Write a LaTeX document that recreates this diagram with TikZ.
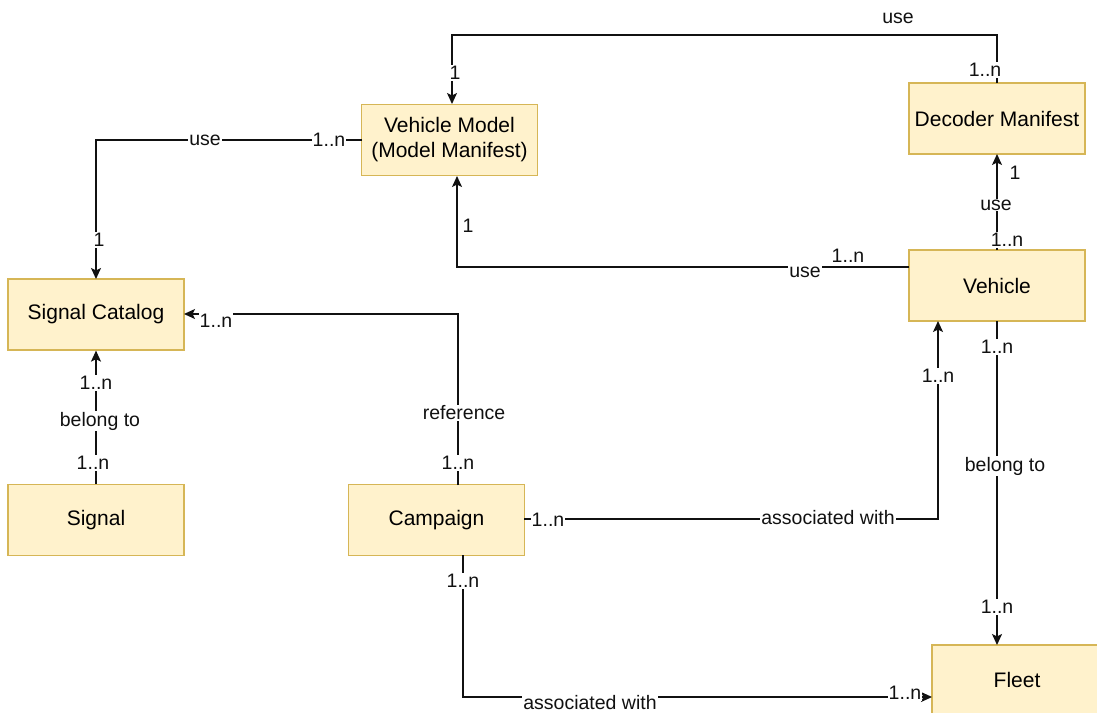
\documentclass[tikz,border=0pt]{standalone}
\usepackage{fontspec}
\setmainfont{Liberation Sans}
\usetikzlibrary{arrows.meta}
\definecolor{boxfill}{HTML}{FFF2CC}
\definecolor{boxline}{HTML}{D6B656}
\definecolor{edgecol}{HTML}{111111}
\tikzset{
  entity/.style={draw=boxline, fill=boxfill, line width=1.2pt, minimum width=176pt, minimum height=71pt, inner sep=0pt, align=center, font=\fontsize{21}{25}\selectfont},
  conn/.style={draw=edgecol, line width=1.5pt},
  arr/.style={conn, -{Stealth[length=11pt,width=10pt,inset=2.5pt]}},
  lbl/.style={fill=white, inner sep=1pt, font=\fontsize{19.5}{22}\selectfont, text=edgecol},
  lblnf/.style={inner sep=1pt, font=\fontsize{19.5}{22}\selectfont, text=edgecol}
}
\begin{document}
\begin{tikzpicture}[x=1pt,y=-1pt]
\useasboundingbox (0,0) rectangle (1097,712);
\clip (0,0) rectangle (1097,712);
\fill[white] (0,0) rectangle (1097,712);

% entities
\node[entity] (vm) at (449.5,140) {Vehicle Model\\(Model Manifest)};
\node[entity] (dm) at (997,118.5) {Decoder Manifest};
\node[entity] (sc) at (96,314.5) {Signal Catalog};
\node[entity] (veh) at (997,285.5) {Vehicle};
\node[entity] (sig) at (96,520) {Signal};
\node[entity] (camp) at (436.5,520) {Campaign};
\node[entity] (fleet) at (1020,680.5) {};
\node[font=\fontsize{21}{25}\selectfont] (fleettxt) at (1017,680) {Fleet};

% corner coordinates
\coordinate (dmtop) at (997,83);
\coordinate (c1a) at (997,35);
\coordinate (vmtop) at (452,104);
\coordinate (vmleft) at (362,140);
\coordinate (sctop) at (96,279);
\coordinate (vehleft) at (909,267);
\coordinate (vmbot) at (457,176);
\coordinate (camptop) at (458,485);
\coordinate (scright) at (184,314);
\coordinate (campright) at (524,519);
\coordinate (vehbot1) at (938,321);
\coordinate (campbot) at (463,555);
\coordinate (fleetleft) at (932,697);
\coordinate (vehbot2) at (997,321);
\coordinate (fleettop) at (997,645);
\coordinate (vehtop) at (997,250);
\coordinate (dmbot) at (997,154);

% connectors
\draw[arr] (dmtop) -- (c1a) -| (vmtop);
\draw[arr] (vmleft) -| (sctop);
\draw[arr] (vehleft) -| (vmbot);
\draw[arr] (camptop) |- (scright);
\draw[arr] (sig.north) -- (sc.south);
\draw[arr] (campright) -| (vehbot1);
\draw[arr] (campbot) |- (fleetleft);
\draw[arr] (vehbot2) -- (fleettop);
\draw[arr] (vehtop) -- (dmbot);

% labels edge 1
\node[lblnf] (l1a) at (898,18) {use};
\node[lbl] (l1b) at (985,70) {1..n};
\node[lbl] (l1c) at (455,73) {1};
% edge 2
\node[lbl] (l2a) at (329,140) {1..n};
\node[lbl] (l2b) at (205,140) {use};
\node[lbl] (l2c) at (99,240) {1};
% edge 3
\node[lbl] (l3a) at (805,272) {use};
\node[lblnf] (l3b) at (848,256) {1..n};
\node[lblnf] (l3c) at (468,226) {1};
% edge 4
\node[lbl] (l4a) at (216,321) {1..n};
\node[lbl] (l4b) at (464,413) {reference};
\node[lbl] (l4c) at (458,463) {1..n};
% edge 5
\node[lbl] (l5a) at (96,383) {1..n};
\node[lbl] (l5b) at (100,421) {belong to};
\node[lbl] (l5c) at (93,463) {1..n};
% edge 6
\node[lbl] (l6a) at (548,520) {1..n};
\node[lbl] (l6b) at (828,518) {associated with};
\node[lbl] (l6c) at (938,376) {1..n};
% edge 7
\node[lbl] (l7a) at (463,581) {1..n};
\node[lbl] (l7b) at (590,703) {associated with};
\node[lbl] (l7c) at (905,693) {1..n};
% edge 8
\node[lbl] (l8a) at (997,347) {1..n};
\node[lbl] (l8b) at (1005,466) {belong to};
\node[lbl] (l8c) at (997,607) {1..n};
% edge 9
\node[lbl] (l9a) at (996,205) {use};
\node[lbl] (l9b) at (1007,240) {1..n};
\node[lblnf] (l9c) at (1015,173) {1};
\end{tikzpicture}
\end{document}
